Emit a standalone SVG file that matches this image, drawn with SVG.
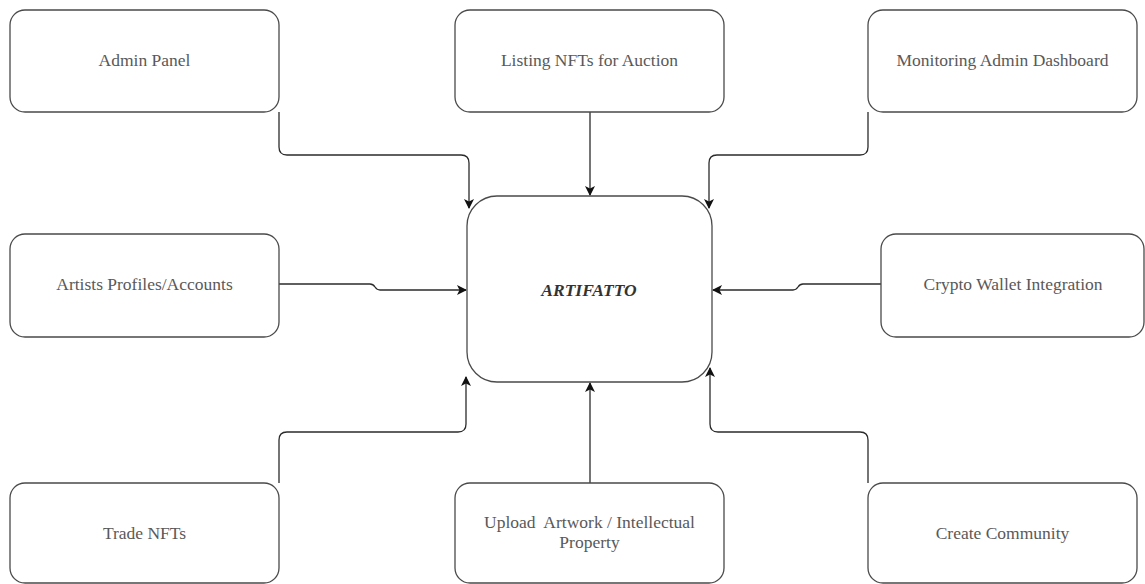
<svg xmlns="http://www.w3.org/2000/svg" width="1145" height="584" viewBox="0 0 1145 584">
  <style>
    .box { fill: #ffffff; stroke: #4a4a4a; stroke-width: 1.3; }
    .lbl { font-family: "Liberation Serif", "Times New Roman", serif; font-size: 17.5px; fill: #595959; text-anchor: middle; white-space: pre; }
    .hub { font-family: "Liberation Serif", "Times New Roman", serif; font-size: 17.5px; fill: #333333; text-anchor: middle; font-weight: bold; font-style: italic; }
    .edge { fill: none; stroke: #2b2b2b; stroke-width: 1.3; marker-end: url(#arrow); }
  </style>
  <defs>
    <marker id="arrow" viewBox="0 0 10 10" refX="9" refY="5" markerWidth="10" markerHeight="10" markerUnits="userSpaceOnUse" orient="auto">
      <path d="M0,0 L10,5 L0,10 L2.5,5 Z" fill="#111111"/>
    </marker>
  </defs>
  <rect width="1145" height="584" fill="#ffffff"/>

  <!-- connectors into the hub -->
  <g id="connectors">
    <path class="edge" d="M279,112 V147 Q279,155 287,155 H461 Q469,155 469,163 V208"/>
    <path class="edge" d="M590,112 V195"/>
    <path class="edge" d="M868,112 V147 Q868,155 860,155 H717 Q709,155 709,163 V208"/>
    <path class="edge" d="M279,284 H370 Q373,284 375,287 Q377,290 380,290 H466"/>
    <path class="edge" d="M881,284 H803 Q800,284 798,287 Q796,290 793,290 H713"/>
    <path class="edge" d="M279,483 V440 Q279,432 287,432 H458 Q466,432 466,424 V377"/>
    <path class="edge" d="M590,483 V383"/>
    <path class="edge" d="M868,483 V440 Q868,432 860,432 H718 Q710,432 710,424 V368"/>
  </g>

  <g id="hub">
    <rect class="box" x="467" y="196" width="245" height="186" rx="30" ry="30"/>
    <text class="hub" x="589" y="296">ARTIFATTO</text>
  </g>

  <g id="admin-panel">
    <rect class="box" x="10" y="10" width="269" height="102" rx="15" ry="15"/>
    <text class="lbl" x="144.5" y="66">Admin Panel</text>
  </g>
  <g id="listing-nfts">
    <rect class="box" x="455" y="10" width="269" height="102" rx="15" ry="15"/>
    <text class="lbl" x="589.5" y="66">Listing NFTs for Auction</text>
  </g>
  <g id="monitoring-dashboard">
    <rect class="box" x="868" y="10" width="269" height="102" rx="15" ry="15"/>
    <text class="lbl" x="1002.5" y="66">Monitoring Admin Dashboard</text>
  </g>
  <g id="artist-profiles">
    <rect class="box" x="10" y="234" width="269" height="103" rx="15" ry="15"/>
    <text class="lbl" x="144.5" y="290">Artists Profiles/Accounts</text>
  </g>
  <g id="crypto-wallet">
    <rect class="box" x="881" y="234" width="263" height="103" rx="15" ry="15"/>
    <text class="lbl" x="1013" y="290">Crypto Wallet Integration</text>
  </g>
  <g id="trade-nfts">
    <rect class="box" x="10" y="483" width="269" height="100" rx="15" ry="15"/>
    <text class="lbl" x="144.5" y="539">Trade NFTs</text>
  </g>
  <g id="upload-artwork">
    <rect class="box" x="455" y="483" width="269" height="100" rx="15" ry="15"/>
    <text class="lbl" x="589.5" y="528" xml:space="preserve">Upload  Artwork / Intellectual</text>
    <text class="lbl" x="589.5" y="548">Property</text>
  </g>
  <g id="create-community">
    <rect class="box" x="868" y="483" width="269" height="100" rx="15" ry="15"/>
    <text class="lbl" x="1002.5" y="539">Create Community</text>
  </g>
</svg>
